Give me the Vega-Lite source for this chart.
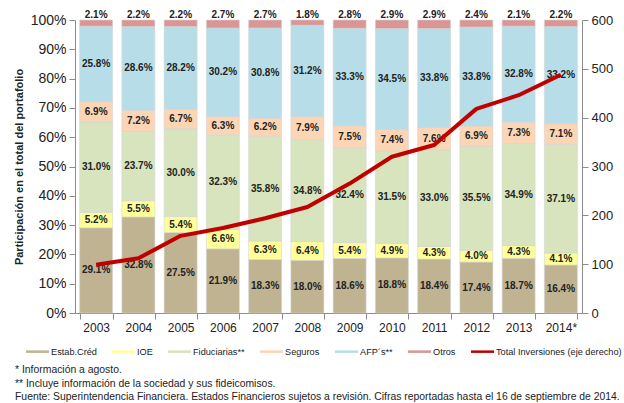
{
  "$schema": "https://vega.github.io/schema/vega-lite/v6.json",
  "width": 507,
  "height": 293,
  "autosize": {"type": "none"},
  "padding": {"left": 75, "top": 20, "right": 42, "bottom": 90},
  "background": "white",
  "config": {
    "font": "Liberation Sans",
    "view": {"stroke": null},
    "axis": {"grid": false, "domainColor": "#8c8c8c", "tickColor": "#8c8c8c", "labelColor": "#222222", "labelFont": "Liberation Sans"},
    "axisLeft": {"labelFontSize": 14, "labelOverlap": false, "tickSize": 6, "labelPadding": 3},
    "axisRight": {"labelFontSize": 13, "labelOverlap": false, "tickSize": 6, "labelPadding": 3}
  },
  "title": {
    "text": ["* Información  a agosto.", "** Incluye información de  la sociedad y sus fideicomisos.", "Fuente: Superintendencia Financiera. Estados Financieros sujetos a revisión. Cifras reportadas hasta el  16 de  septiembre de 2014."],
    "orient": "bottom",
    "anchor": "start",
    "frame": "group",
    "dx": -60,
    "offset": 8,
    "fontSize": 10.4,
    "fontWeight": "normal",
    "color": "#222222",
    "lineHeight": 13.5,
    "font": "Liberation Sans"
  },
  "datasets": {
    "shares": [
      {"year": "2003", "serie": "Estab.Créd", "k": 1, "v": 0.291},
      {"year": "2003", "serie": "IOE", "k": 2, "v": 0.052},
      {"year": "2003", "serie": "Fiduciarias**", "k": 3, "v": 0.310},
      {"year": "2003", "serie": "Seguros", "k": 4, "v": 0.069},
      {"year": "2003", "serie": "AFP´s**", "k": 5, "v": 0.258},
      {"year": "2003", "serie": "Otros", "k": 6, "v": 0.021},
      {"year": "2004", "serie": "Estab.Créd", "k": 1, "v": 0.328},
      {"year": "2004", "serie": "IOE", "k": 2, "v": 0.055},
      {"year": "2004", "serie": "Fiduciarias**", "k": 3, "v": 0.237},
      {"year": "2004", "serie": "Seguros", "k": 4, "v": 0.072},
      {"year": "2004", "serie": "AFP´s**", "k": 5, "v": 0.286},
      {"year": "2004", "serie": "Otros", "k": 6, "v": 0.022},
      {"year": "2005", "serie": "Estab.Créd", "k": 1, "v": 0.275},
      {"year": "2005", "serie": "IOE", "k": 2, "v": 0.054},
      {"year": "2005", "serie": "Fiduciarias**", "k": 3, "v": 0.300},
      {"year": "2005", "serie": "Seguros", "k": 4, "v": 0.067},
      {"year": "2005", "serie": "AFP´s**", "k": 5, "v": 0.282},
      {"year": "2005", "serie": "Otros", "k": 6, "v": 0.022},
      {"year": "2006", "serie": "Estab.Créd", "k": 1, "v": 0.219},
      {"year": "2006", "serie": "IOE", "k": 2, "v": 0.066},
      {"year": "2006", "serie": "Fiduciarias**", "k": 3, "v": 0.323},
      {"year": "2006", "serie": "Seguros", "k": 4, "v": 0.063},
      {"year": "2006", "serie": "AFP´s**", "k": 5, "v": 0.302},
      {"year": "2006", "serie": "Otros", "k": 6, "v": 0.027},
      {"year": "2007", "serie": "Estab.Créd", "k": 1, "v": 0.183},
      {"year": "2007", "serie": "IOE", "k": 2, "v": 0.063},
      {"year": "2007", "serie": "Fiduciarias**", "k": 3, "v": 0.358},
      {"year": "2007", "serie": "Seguros", "k": 4, "v": 0.062},
      {"year": "2007", "serie": "AFP´s**", "k": 5, "v": 0.308},
      {"year": "2007", "serie": "Otros", "k": 6, "v": 0.027},
      {"year": "2008", "serie": "Estab.Créd", "k": 1, "v": 0.180},
      {"year": "2008", "serie": "IOE", "k": 2, "v": 0.064},
      {"year": "2008", "serie": "Fiduciarias**", "k": 3, "v": 0.348},
      {"year": "2008", "serie": "Seguros", "k": 4, "v": 0.079},
      {"year": "2008", "serie": "AFP´s**", "k": 5, "v": 0.312},
      {"year": "2008", "serie": "Otros", "k": 6, "v": 0.018},
      {"year": "2009", "serie": "Estab.Créd", "k": 1, "v": 0.186},
      {"year": "2009", "serie": "IOE", "k": 2, "v": 0.054},
      {"year": "2009", "serie": "Fiduciarias**", "k": 3, "v": 0.324},
      {"year": "2009", "serie": "Seguros", "k": 4, "v": 0.075},
      {"year": "2009", "serie": "AFP´s**", "k": 5, "v": 0.333},
      {"year": "2009", "serie": "Otros", "k": 6, "v": 0.028},
      {"year": "2010", "serie": "Estab.Créd", "k": 1, "v": 0.188},
      {"year": "2010", "serie": "IOE", "k": 2, "v": 0.049},
      {"year": "2010", "serie": "Fiduciarias**", "k": 3, "v": 0.315},
      {"year": "2010", "serie": "Seguros", "k": 4, "v": 0.074},
      {"year": "2010", "serie": "AFP´s**", "k": 5, "v": 0.345},
      {"year": "2010", "serie": "Otros", "k": 6, "v": 0.029},
      {"year": "2011", "serie": "Estab.Créd", "k": 1, "v": 0.184},
      {"year": "2011", "serie": "IOE", "k": 2, "v": 0.043},
      {"year": "2011", "serie": "Fiduciarias**", "k": 3, "v": 0.330},
      {"year": "2011", "serie": "Seguros", "k": 4, "v": 0.076},
      {"year": "2011", "serie": "AFP´s**", "k": 5, "v": 0.338},
      {"year": "2011", "serie": "Otros", "k": 6, "v": 0.029},
      {"year": "2012", "serie": "Estab.Créd", "k": 1, "v": 0.174},
      {"year": "2012", "serie": "IOE", "k": 2, "v": 0.040},
      {"year": "2012", "serie": "Fiduciarias**", "k": 3, "v": 0.355},
      {"year": "2012", "serie": "Seguros", "k": 4, "v": 0.069},
      {"year": "2012", "serie": "AFP´s**", "k": 5, "v": 0.338},
      {"year": "2012", "serie": "Otros", "k": 6, "v": 0.024},
      {"year": "2013", "serie": "Estab.Créd", "k": 1, "v": 0.187},
      {"year": "2013", "serie": "IOE", "k": 2, "v": 0.043},
      {"year": "2013", "serie": "Fiduciarias**", "k": 3, "v": 0.349},
      {"year": "2013", "serie": "Seguros", "k": 4, "v": 0.073},
      {"year": "2013", "serie": "AFP´s**", "k": 5, "v": 0.328},
      {"year": "2013", "serie": "Otros", "k": 6, "v": 0.021},
      {"year": "2014*", "serie": "Estab.Créd", "k": 1, "v": 0.164},
      {"year": "2014*", "serie": "IOE", "k": 2, "v": 0.041},
      {"year": "2014*", "serie": "Fiduciarias**", "k": 3, "v": 0.371},
      {"year": "2014*", "serie": "Seguros", "k": 4, "v": 0.071},
      {"year": "2014*", "serie": "AFP´s**", "k": 5, "v": 0.332},
      {"year": "2014*", "serie": "Otros", "k": 6, "v": 0.022}
    ],
    "total": [
      {"year": "2003", "serie": "Total Inversiones (eje derecho)", "total": 99},
      {"year": "2004", "serie": "Total Inversiones (eje derecho)", "total": 112},
      {"year": "2005", "serie": "Total Inversiones (eje derecho)", "total": 158},
      {"year": "2006", "serie": "Total Inversiones (eje derecho)", "total": 174},
      {"year": "2007", "serie": "Total Inversiones (eje derecho)", "total": 194},
      {"year": "2008", "serie": "Total Inversiones (eje derecho)", "total": 217},
      {"year": "2009", "serie": "Total Inversiones (eje derecho)", "total": 265},
      {"year": "2010", "serie": "Total Inversiones (eje derecho)", "total": 320},
      {"year": "2011", "serie": "Total Inversiones (eje derecho)", "total": 344},
      {"year": "2012", "serie": "Total Inversiones (eje derecho)", "total": 418},
      {"year": "2013", "serie": "Total Inversiones (eje derecho)", "total": 446},
      {"year": "2014*", "serie": "Total Inversiones (eje derecho)", "total": 488}
    ]
  },
  "encoding": {
    "x": {
      "field": "year",
      "type": "ordinal",
      "scale": {"paddingInner": 0.22, "paddingOuter": 0.11},
      "axis": {"title": null, "labelAngle": 0, "labelFontSize": 12, "tickBand": "extent", "tickSize": 6, "labelPadding": 3}
    }
  },
  "layer": [
    {
      "data": {"name": "shares"},
      "transform": [
        {"stack": "v", "groupby": ["year"], "sort": [{"field": "k", "order": "ascending"}], "offset": "normalize", "as": ["y0", "y1"]}
      ],
      "layer": [
        {
          "mark": {"type": "bar", "stroke": "#d4d4d4", "strokeWidth": 0.6},
          "encoding": {
            "y": {
              "field": "y0",
              "type": "quantitative",
              "scale": {"domain": [0, 1], "nice": false},
              "axis": {
                "format": ".0%",
                "values": [0, 0.1, 0.2, 0.3, 0.4, 0.5, 0.6, 0.7, 0.8, 0.9, 1],
                "title": "Participación en el total del portafolio",
                "titleFontSize": 11,
                "titleFontWeight": "bold",
                "titleColor": "#222222",
                "titlePadding": 6
              }
            },
            "y2": {"field": "y1"},
            "color": {
              "field": "serie",
              "type": "nominal",
              "scale": {
                "domain": ["Estab.Créd", "IOE", "Fiduciarias**", "Seguros", "AFP´s**", "Otros", "Total Inversiones (eje derecho)"],
                "range": ["#bfb392", "#ffff99", "#d7e4bd", "#fcd5b5", "#b7dee8", "#d99694", "#c00000"]
              },
              "legend": {
                "orient": "none",
                "direction": "horizontal",
                "columns": 7,
                "legendX": -49,
                "legendY": 320,
                "title": null,
                "labelFontSize": 9.2,
                "labelColor": "#222222",
                "labelLimit": 300,
                "labelOffset": 2,
                "columnPadding": 15,
                "symbolSize": 529,
                "symbolStrokeWidth": 0,
                "symbolType": "M-1,-0.11H1V0.11H-1Z",
                "encode": {
                  "symbols": {
                    "update": {
                      "fill": {"scale": "color", "field": "value"},
                      "stroke": {"value": "transparent"},
                      "shape": {"signal": "datum.value === 'Total Inversiones (eje derecho)' ? 'M-1,-0.07H1V0.07H-1Z' : 'M-1,-0.11H1V0.11H-1Z'"}
                    }
                  }
                }
              }
            },
            "order": {"field": "k", "type": "quantitative"}
          }
        },
        {
          "transform": [
            {"filter": "datum.serie !== 'Otros'"},
            {"fold": ["y0", "y1"], "as": ["edge", "yy"]}
          ],
          "mark": {"type": "text", "fontWeight": "bold", "fontSize": 10, "color": "#222222", "baseline": "middle"},
          "encoding": {
            "y": {
              "aggregate": "mean",
              "field": "yy",
              "type": "quantitative",
              "axis": {
                "format": ".0%",
                "values": [0, 0.1, 0.2, 0.3, 0.4, 0.5, 0.6, 0.7, 0.8, 0.9, 1],
                "title": "Participación en el total del portafolio",
                "titleFontSize": 11,
                "titleFontWeight": "bold",
                "titleColor": "#222222",
                "titlePadding": 6
              }
            },
            "detail": {"field": "serie", "type": "nominal"},
            "text": {"field": "v", "type": "quantitative", "format": ".1%"}
          }
        },
        {
          "transform": [{"filter": "datum.serie === 'Otros'"}],
          "mark": {"type": "text", "fontWeight": "bold", "fontSize": 10, "color": "#222222", "baseline": "bottom", "dy": 0},
          "encoding": {
            "y": {
              "field": "y1",
              "type": "quantitative",
              "axis": {
                "format": ".0%",
                "values": [0, 0.1, 0.2, 0.3, 0.4, 0.5, 0.6, 0.7, 0.8, 0.9, 1],
                "title": "Participación en el total del portafolio",
                "titleFontSize": 11,
                "titleFontWeight": "bold",
                "titleColor": "#222222",
                "titlePadding": 6
              }
            },
            "text": {"field": "v", "type": "quantitative", "format": ".1%"}
          }
        }
      ]
    },
    {
      "data": {"name": "total"},
      "mark": {"type": "line", "strokeWidth": 4, "strokeJoin": "round"},
      "encoding": {
        "y": {
          "field": "total",
          "type": "quantitative",
          "scale": {"domain": [0, 600], "nice": false},
          "axis": {"orient": "right", "title": null, "values": [0, 100, 200, 300, 400, 500, 600]}
        },
        "color": {"field": "serie", "type": "nominal"}
      }
    }
  ],
  "resolve": {"scale": {"y": "independent"}}
}
